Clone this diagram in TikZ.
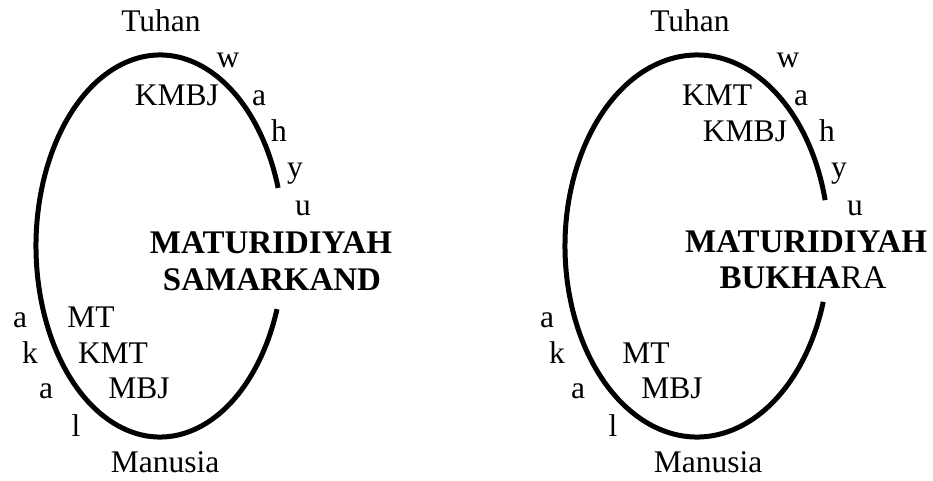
\documentclass[tikz,border=0pt]{standalone}
\usepackage{fontspec}
\setmainfont{Liberation Serif}
\begin{document}
\begin{tikzpicture}[x=1pt,y=1pt,
  lbl/.style={inner sep=0pt,anchor=base,font=\fontsize{31.5}{38}\selectfont},
  ttl/.style={inner sep=0pt,anchor=base,font=\fontsize{33}{40}\selectfont\bfseries},
  loop/.style={line width=5pt}]
\useasboundingbox (0,0) rectangle (933,480);
% left diagram
\coordinate (lc) at (160,234);
\draw[loop] ([shift={(17.7:124 and 191)}]lc) arc[start angle=17.7,end angle=340.7,x radius=124,y radius=191];
\node[lbl] (lT) at (161,448) {Tuhan};
\node[lbl] (lw1) at (228,412) {w};
\node[lbl] (lKMBJ) at (177,374) {KMBJ};
\node[lbl] (lw2) at (259,374) {a};
\node[lbl] (lw3) at (279,338) {h};
\node[lbl] (lw4) at (295,302) {y};
\node[lbl] (lw5) at (303,265) {u};
\node[ttl] (lt1) at (271,227) {MATURIDIYAH};
\node[ttl] (lt2) at (272,190) {SAMARKAND};
\node[lbl] (la1) at (20,153) {a};
\node[lbl] (lMT) at (91,153) {MT};
\node[lbl] (la2) at (30,117) {k};
\node[lbl] (lKMT) at (113,117) {KMT};
\node[lbl] (la3) at (46,82) {a};
\node[lbl] (lMBJ) at (139,82) {MBJ};
\node[lbl] (la4) at (76,44) {l};
\node[lbl] (lM) at (165,8) {Manusia};
% right diagram
\coordinate (rc) at (697,234);
\draw[loop] ([shift={(13.9:132 and 191)}]rc) arc[start angle=13.9,end angle=343.0,x radius=132,y radius=191];
\node[lbl] (rT) at (690,448) {Tuhan};
\node[lbl] (rw1) at (788,412) {w};
\node[lbl] (rKMT) at (717,374) {KMT};
\node[lbl] (rw2) at (801,374) {a};
\node[lbl] (rKMBJ) at (745,338) {KMBJ};
\node[lbl] (rw3) at (827,338) {h};
\node[lbl] (rw4) at (839,302) {y};
\node[lbl] (rw5) at (855,265) {u};
\node[ttl] (rt1) at (806,228) {MATURIDIYAH};
\node[ttl] (rt2) at (803,192) {BUKHA\mdseries RA};
\node[lbl] (ra1) at (547,153) {a};
\node[lbl] (ra2) at (557,117) {k};
\node[lbl] (rMT) at (646,117) {MT};
\node[lbl] (ra3) at (578,82) {a};
\node[lbl] (rMBJ) at (672,82) {MBJ};
\node[lbl] (ra4) at (613,44) {l};
\node[lbl] (rM) at (708,8) {Manusia};
\end{tikzpicture}
\end{document}
